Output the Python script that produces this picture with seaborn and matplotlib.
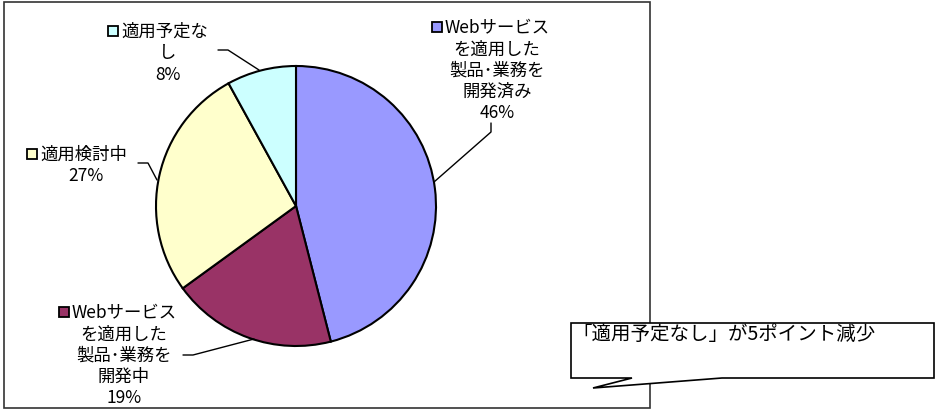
import matplotlib
matplotlib.use("Agg")
import matplotlib.pyplot as plt
from matplotlib.patches import Rectangle, Polygon
import seaborn as sns

# Share of companies by status of Web service adoption
categories = [
    "Webサービスを適用した製品･業務を開発済み",
    "Webサービスを適用した製品･業務を開発中",
    "適用検討中",
    "適用予定なし",
]
shares = [46, 19, 27, 8]
label_lines = [
    ["Webサービス", "を適用した", "製品･業務を", "開発済み"],
    ["Webサービス", "を適用した", "製品･業務を", "開発中"],
    ["適用検討中"],
    ["適用予定な", "し"],
]
slice_colors = ["#9999FF", "#993366", "#FFFFCC", "#CCFFFF"]
callout_text = "「適用予定なし」が5ポイント減少"

sns.set_style("white")
plt.rcParams["font.family"] = ["Noto Sans CJK JP", "DejaVu Sans"]

W, H = 938, 414
fig = plt.figure(figsize=(W / 100, H / 100), dpi=100)
ax = fig.add_axes([0, 0, 1, 1])

# pie drawn in pixel-like coordinates (y grows downward)
cx, cy, r = 296, 207, 140
ax.pie(shares, colors=slice_colors, startangle=-90, counterclock=True,
       center=(cx, cy), radius=r,
       wedgeprops=dict(edgecolor="black", linewidth=1.5))
ax.set_xlim(0, W)
ax.set_ylim(H, 0)
ax.set_aspect("equal")
ax.axis("off")

# chart area frame
ax.add_patch(Rectangle((4, 3), 646, 406, fill=False, edgecolor="#333333",
                       linewidth=1.2, zorder=1))

fs = 12.5
line_h = 21.3

def draw_label(lines, pct, xc, y0, marker_x, color):
    ax.add_patch(Rectangle((marker_x, y0 - 5), 10, 10, facecolor=color,
                           edgecolor="black", linewidth=1.3, zorder=5))
    ax.text(marker_x + 13, y0, lines[0], ha="left", va="center",
            fontsize=fs, color="black", zorder=5)
    for i, t in enumerate(lines[1:] + [f"{pct}%"], start=1):
        ax.text(xc, y0 + i * line_h, t, ha="center", va="center",
                fontsize=fs, color="black", zorder=5)

label_pos = [
    (497, 28, 432),
    (124, 313, 59),
    (86, 155, 27),
    (168, 32, 108),
]
for lines, pct, color, (xc, y0, mx) in zip(label_lines, shares, slice_colors, label_pos):
    draw_label(lines, pct, xc, y0, mx, color)

# leader lines
leaders = [
    [(491, 124), (491, 133), (434, 183)],
    [(183, 356), (193, 356), (254, 340)],
    [(138, 164), (148, 164), (157, 181)],
    [(218, 51), (228, 51), (259, 71)],
]
for pts in leaders:
    xs, ys = zip(*pts)
    ax.plot(xs, ys, color="black", linewidth=1, zorder=4)

# callout box with tail
callout = Polygon([(571, 324), (934, 324), (934, 379), (722, 379),
                   (593, 389), (632, 379), (571, 379)], closed=True,
                  facecolor="white", edgecolor="black", linewidth=1.2, zorder=6)
ax.add_patch(callout)
ax.text(572, 334, callout_text, ha="left", va="center", fontsize=14,
        color="black", zorder=7)

fig.savefig("out.png", dpi=100)
